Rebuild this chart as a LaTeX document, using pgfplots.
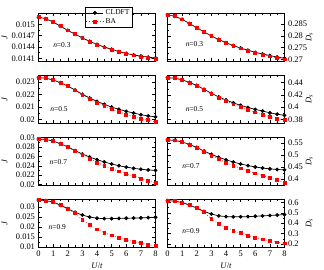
\documentclass[border=0pt]{standalone}
\usepackage{fontspec}
\setmainfont{Liberation Serif}
\usepackage{pgfplots}
\pgfplotsset{compat=1.18}
\usepackage{pgfplotstable}
\usepgfplotslibrary{groupplots}

\pgfplotstableread{
U Jc Jb Dc Db
0 0.01519 0.01519 0.2890 0.2890
0.5 0.01515 0.01515 0.2884 0.2884
1 0.01506 0.01506 0.2871 0.2871
1.5 0.01495 0.01495 0.2853 0.2853
2 0.01484 0.01484 0.2835 0.2835
2.5 0.01474 0.01474 0.2817 0.2817
3 0.01464 0.01464 0.2800 0.2800
3.5 0.01455 0.01454 0.2785 0.2784
4 0.01447 0.01446 0.2771 0.2770
4.5 0.01440 0.01439 0.2759 0.2758
5 0.01434 0.01433 0.2748 0.2747
5.5 0.01428 0.01427 0.2739 0.2737
6 0.01423 0.01422 0.2730 0.2728
6.5 0.01419 0.01418 0.2723 0.2720
7 0.01416 0.01414 0.2716 0.2713
7.5 0.01413 0.01411 0.2710 0.2706
8 0.01411 0.01408 0.2705 0.2700
}\tabA

\pgfplotstableread{
U Jc Jb Dc Db
0 0.02335 0.02335 0.4482 0.4482
0.5 0.02330 0.02330 0.4474 0.4474
1 0.02316 0.02316 0.4447 0.4447
1.5 0.02294 0.02294 0.4404 0.4404
2 0.02268 0.02267 0.4355 0.4353
2.5 0.02235 0.02233 0.4291 0.4287
3 0.02201 0.02197 0.4226 0.4218
3.5 0.02171 0.02164 0.4168 0.4155
4 0.02144 0.02134 0.4116 0.4098
4.5 0.02120 0.02107 0.4070 0.4046
5 0.02098 0.02082 0.4028 0.3998
5.5 0.02080 0.02059 0.3994 0.3952
6 0.02064 0.02039 0.3963 0.3914
6.5 0.02050 0.02021 0.3936 0.3878
7 0.02037 0.02005 0.3906 0.3846
7.5 0.02027 0.01992 0.3884 0.3815
8 0.02019 0.01981 0.3866 0.3787
}\tabB

\pgfplotstableread{
U Jc Jb Dc Db
0 0.02967 0.02967 0.5637 0.5637
0.5 0.02958 0.02958 0.5620 0.5620
1 0.02922 0.02922 0.5550 0.5550
1.5 0.02868 0.02866 0.5450 0.5446
2 0.02800 0.02795 0.5320 0.5311
2.5 0.02722 0.02710 0.5170 0.5150
3 0.02648 0.02625 0.5031 0.4988
3.5 0.02585 0.02550 0.4912 0.4845
4 0.02528 0.02470 0.4805 0.4693
4.5 0.02480 0.02400 0.4712 0.4560
5 0.02436 0.02340 0.4630 0.4446
5.5 0.02400 0.02280 0.4562 0.4332
6 0.02370 0.02230 0.4505 0.4237
6.5 0.02345 0.02180 0.4460 0.4142
7 0.02325 0.02130 0.4425 0.4047
7.5 0.02310 0.02080 0.4400 0.3952
8 0.02300 0.02030 0.4385 0.3857
}\tabC

\pgfplotstableread{
U Jc Jb Dc Db
0 0.03360 0.03360 0.6160 0.6160
0.5 0.03330 0.03330 0.6110 0.6110
1 0.03250 0.03250 0.5980 0.5980
1.5 0.03100 0.03100 0.5750 0.5750
2 0.02920 0.02915 0.5450 0.5440
2.5 0.02740 0.02700 0.5130 0.5050
3 0.02600 0.02350 0.4880 0.4420
3.5 0.02500 0.02100 0.4700 0.3970
4 0.02440 0.01880 0.4630 0.3570
4.5 0.02420 0.01720 0.4610 0.3290
5 0.02420 0.01580 0.4610 0.3030
5.5 0.02430 0.01460 0.4630 0.2820
6 0.02440 0.01360 0.4660 0.2630
6.5 0.02450 0.01260 0.4700 0.2440
7 0.02460 0.01180 0.4740 0.2300
7.5 0.02470 0.01110 0.4780 0.2160
8 0.02490 0.01050 0.4820 0.2060
}\tabD

\pgfplotsset{
  cl/.style={black, line width=0.7pt, mark=*, mark size=1.55pt},
  ba/.style={red, dotted, line width=0.7pt, mark=square*, mark size=1.45pt, mark options={solid}},
  leftcol/.style={ylabel={\textit{J}}, ylabel style={at={(axis description cs:-0.29,0.5)}, anchor=center}},
  rightcol/.style={yticklabel pos=right, ylabel={\textit{D}\textsubscript{\textit{s}}}, ylabel style={at={(axis description cs:1.21,0.5)}, anchor=center}},
}
\newcommand{\nlab}[3]{\node[font=\fontsize{7.5}{8}\selectfont] at (rel axis cs:#1,#2) {\textit{n}=#3};}

\begin{document}
\begin{tikzpicture}
\begin{groupplot}[
  group style={group size=2 by 4, horizontal sep=12bp, vertical sep=14bp,
    xticklabels at=edge bottom, xlabels at=edge bottom},
  scale only axis, width=117bp, height=48bp,
  xmin=0, xmax=8, xtick={0,1,...,8}, minor x tick num=1, minor y tick num=1,
  major tick length=3bp, minor tick length=1.7bp,
  tick style={line width=0.4pt, black},
  axis line style={line width=0.5pt},
  /pgf/number format/assume math mode=true,
  ticklabel style={font=\fontsize{8.5}{9}\selectfont},
  label style={font=\fontsize{8.5}{9}\selectfont},
  scaled y ticks=false,
  xlabel={\textit{U}/\textit{t}},
]
\nextgroupplot[leftcol, ymin=0.01403, ymax=0.0153,
  ytick={0.0141,0.0144,0.0147,0.015}, yticklabels={0.0141,0.0144,0.0147,0.015},
  legend style={at={(0.6,1.125)}, anchor=north, font=\fontsize{7.5}{8}\selectfont, inner sep=0.5pt, row sep=-1.5pt, draw=black, line width=0.4pt},
  legend cell align=left]
\coordinate (TL) at (rel axis cs:0,1);
\addplot[cl] table[x=U,y=Jc] {\tabA};
\addplot[ba] table[x=U,y=Jb] {\tabA};
\legend{CLDFT,BA}
\nlab{0.2}{0.33}{0.3}
\nextgroupplot[rightcol, ymin=0.2693, ymax=0.2898,
  ytick={0.27,0.275,0.28,0.285}, yticklabels={0.27,0.275,0.28,0.285}]
\addplot[cl] table[x=U,y=Dc] {\tabA};
\addplot[ba] table[x=U,y=Db] {\tabA};
\nlab{0.23}{0.35}{0.3}
\nextgroupplot[leftcol, ymin=0.0197, ymax=0.02356,
  ytick={0.02,0.021,0.022,0.023}, yticklabels={0.02,0.021,0.022,0.023}]
\addplot[cl] table[x=U,y=Jc] {\tabB};
\addplot[ba] table[x=U,y=Jb] {\tabB};
\nlab{0.175}{0.3}{0.5}
\nextgroupplot[rightcol, ymin=0.374, ymax=0.4526,
  ytick={0.38,0.4,0.42,0.44}, yticklabels={0.38,0.4,0.42,0.44}]
\addplot[cl] table[x=U,y=Dc] {\tabB};
\addplot[ba] table[x=U,y=Db] {\tabB};
\nlab{0.23}{0.3}{0.5}
\nextgroupplot[leftcol, ymin=0.0199, ymax=0.0301,
  ytick={0.02,0.022,0.024,0.026,0.028,0.03}, yticklabels={0.02,0.022,0.024,0.026,0.028,0.03}]
\addplot[cl] table[x=U,y=Jc] {\tabC};
\addplot[ba] table[x=U,y=Jb] {\tabC};
\nlab{0.17}{0.47}{0.7}
\nextgroupplot[rightcol, ymin=0.375, ymax=0.576,
  ytick={0.4,0.45,0.5,0.55}, yticklabels={0.4,0.45,0.5,0.55}]
\addplot[cl] table[x=U,y=Dc] {\tabC};
\addplot[ba] table[x=U,y=Db] {\tabC};
\nlab{0.2}{0.39}{0.7}
\nextgroupplot[leftcol, ymin=0.0099, ymax=0.0341,
  ytick={0.01,0.015,0.02,0.025,0.03}, yticklabels={0.01,0.015,0.02,0.025,0.03}]
\addplot[cl] table[x=U,y=Jc] {\tabD};
\addplot[ba] table[x=U,y=Jb] {\tabD};
\nlab{0.16}{0.42}{0.9}
\nextgroupplot[rightcol, ymin=0.171, ymax=0.632,
  ytick={0.2,0.3,0.4,0.5,0.6}, yticklabels={0.2,0.3,0.4,0.5,0.6}]
\coordinate (BR) at (rel axis cs:1,0);
\addplot[cl] table[x=U,y=Dc] {\tabD};
\addplot[ba] table[x=U,y=Db] {\tabD};
\nlab{0.2}{0.33}{0.9}
\end{groupplot}
\pgfresetboundingbox
\useasboundingbox ([xshift=-38.5bp,yshift=13bp]TL) rectangle ([xshift=39.5bp,yshift=-23bp]BR);
\end{tikzpicture}
\end{document}
